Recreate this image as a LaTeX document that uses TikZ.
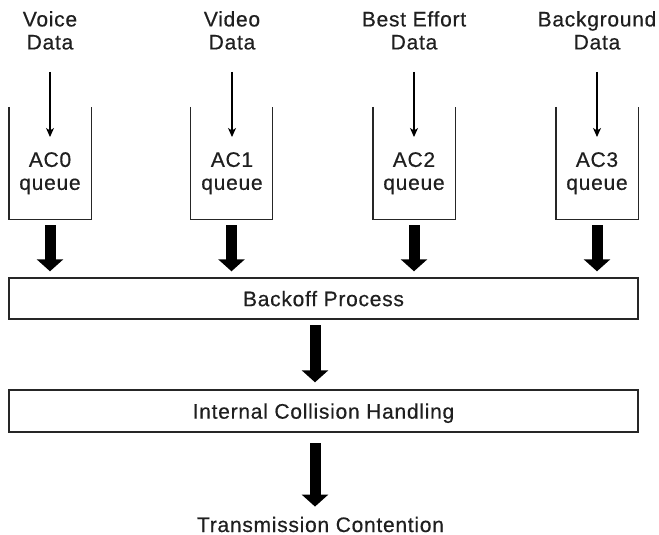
\documentclass[tikz,border=0pt]{standalone}
\usepackage{fontspec}
\setmainfont{Liberation Sans}[LetterSpace=3.5, FakeBold=0.5]
\usetikzlibrary{arrows.meta}
\begin{document}
\begin{tikzpicture}[x=1pt,y=-1pt,
  lbl/.style={font=\fontsize{21}{23}\selectfont, inner sep=0pt, align=center, text=black!88},
  boxlbl/.style={lbl, draw=black!85, line width=1.4pt, minimum width=629pt, text height=15.3pt, text depth=0pt},
  queueshape/.style={draw=black!85, line width=1.4pt},
  qnode/.style={minimum width=82pt, minimum height=112pt, inner sep=0pt},
  thinarrow/.style={draw=black, line width=1.1pt, -{Stealth[length=9pt,width=8pt,inset=2.5pt]}},
  fatarrow/.style={draw=black, line width=11pt, -{Triangle[length=12pt,width=26pt]}},
]
\useasboundingbox (0,0) rectangle (659,535);

% titles
\node[lbl, anchor=north] (t0) at (50,11) {Voice\\Data};
\node[lbl, anchor=north] (t1) at (232,11) {Video\\Data};
\node[lbl, anchor=north] (t2) at (414,11) {Best Effort\\Data};
\node[lbl, anchor=north] (t3) at (597,11) {Background\\Data};

% queues
\node[qnode] (q0) at (50,163) {};
\node[qnode] (q1) at (231.5,163) {};
\node[qnode] (q2) at (414,163) {};
\node[qnode] (q3) at (597,163) {};
\foreach \i in {0,1,2,3}{
  \draw[queueshape] (q\i.north west) -- (q\i.south west) -- (q\i.south east) -- (q\i.north east);
}
\node[lbl, anchor=north] (l0) at (50,152) {AC0\\queue};
\node[lbl, anchor=north] (l1) at (232,152) {AC1\\queue};
\node[lbl, anchor=north] (l2) at (414,152) {AC2\\queue};
\node[lbl, anchor=north] (l3) at (597,152) {AC3\\queue};

% thin input arrows
\foreach \i/\x in {0/50,1/232,2/414,3/597}{
  \coordinate (s\i) at (\x,72);
  \coordinate (e\i) at (\x,137);
  \draw[thinarrow] (s\i) -- (e\i);
}

% boxes
\node[boxlbl, minimum height=41pt] (bp) at (323.5,298.5) {Backoff Process};
\node[boxlbl, minimum height=42pt] (ic) at (323.5,411) {Internal Collision Handling};
\node[lbl, anchor=base] (tc) at (320.5,532) {Transmission Contention};

% fat arrows queue -> backoff
\foreach \i in {0,1,2,3}{
  \draw[fatarrow, shorten <=6pt, shorten >=6pt] (q\i.south) -- (q\i.south |- bp.north);
}
% backoff -> internal collision
\draw[fatarrow] ([xshift=-8.5pt,yshift=-5.5pt]bp.south) -- ([xshift=-8.5pt,yshift=7pt]ic.north);
% internal collision -> transmission contention
\draw[fatarrow] ([xshift=-8.5pt,yshift=-10.5pt]ic.south) -- ([xshift=-5.5pt,yshift=10pt]tc.north);
\end{tikzpicture}
\end{document}
